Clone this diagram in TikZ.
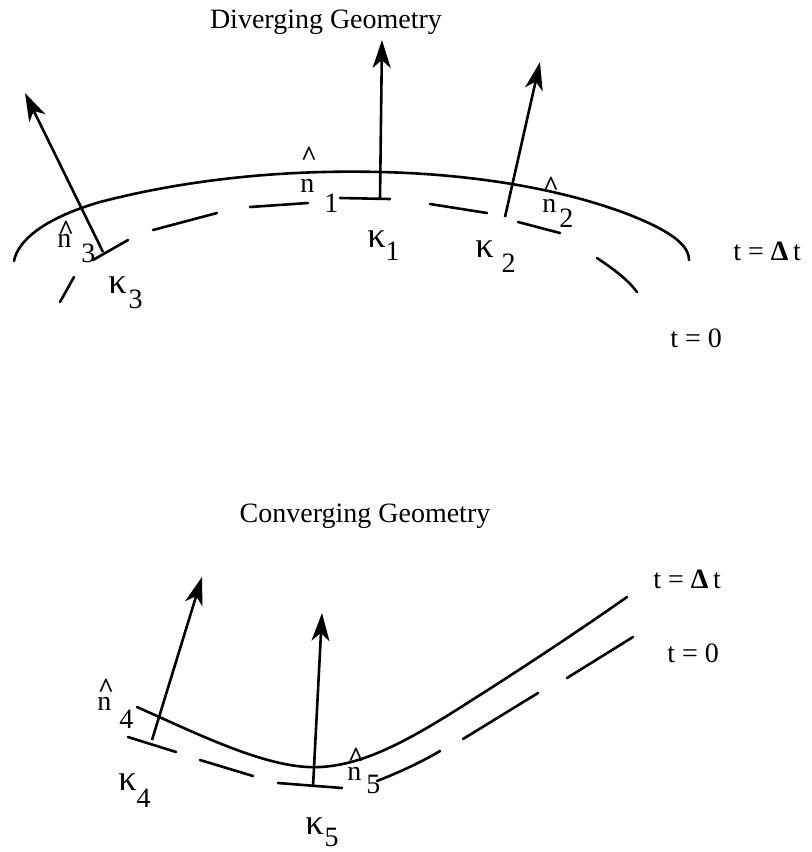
\documentclass[tikz,border=0pt]{standalone}
\usepackage{fontspec}
\usepackage{graphicx}
\setmainfont{Liberation Serif}
\usetikzlibrary{arrows.meta}
\tikzset{
  front solid/.style={line width=1.3pt, line cap=round},
  front dash/.style={line width=1.3pt, line cap=round},
  normal arrow/.style={
    -{Stealth[length=14pt,width=9pt,inset=4pt]},
    line width=1.3pt
  },
  front label/.style={
    font=\fontsize{14}{16}\selectfont,
    inner sep=0pt,
    anchor=base west
  },
  geometry title/.style={
    font=\fontsize{14}{16}\selectfont,
    inner sep=0pt,
    anchor=base
  }
}
\newcommand{\nHat}[1][0.3em]{%
  \leavevmode\rlap{\kern0.02em\raisebox{#1}{\textbf{\textasciicircum}}}n%
}
\newcommand{\kappaSym}{\scalebox{1.3}{κ}}
\newcommand{\indexedLabel}[4][7.5pt]{%
  #2\kern#3\raisebox{-#1}{#4}%
}

\begin{document}
\begin{tikzpicture}[x=0.5pt,y=-0.5pt]
  \useasboundingbox (0,0) rectangle (811,852);

  % diverging geometry
  \node[geometry title] (div title) at (326,28) {Diverging Geometry};

  \draw[front solid] (14,261) .. controls (18,240) and (45,218) .. (100,202)
    .. controls (200,176) and (300,170) .. (380,172)
    .. controls (470,174) and (560,188) .. (630,215)
    .. controls (665,229) and (689,243) .. (689,260);

  \draw[front dash] (60,302) -- (74,277);
  \draw[front dash] (93,260) -- (128,240);
  \draw[front dash] (153,230) -- (217,213);
  \draw[front dash] (250,207) -- (308,203);
  \draw[front dash] (340,198) -- (390,199);
  \draw[front dash] (430,204) -- (487,213);
  \draw[front dash] (518,222) -- (560,233);
  \draw[front dash] (597,258) .. controls (615,270) and (628,280) .. (637,292);

  \coordinate (n3 base) at (103,252);
  \coordinate (n3 tip) at (25,93);
  \coordinate (n1 base) at (380,199);
  \coordinate (n1 tip) at (382,40);
  \coordinate (n2 base) at (505,217);
  \coordinate (n2 tip) at (540,62);
  \draw[normal arrow] (n3 base) -- (n3 tip);
  \draw[normal arrow] (n1 base) -- (n1 tip);
  \draw[normal arrow] (n2 base) -- (n2 tip);

  \node[front label] (n1 label) at (300,192)
    {\indexedLabel[10pt]{\nHat[0.95em]}{5pt}{1}};
  \node[front label] (k1 label) at (367,247) {\indexedLabel[6.5pt]{\kappaSym}{0pt}{1}};
  \node[front label] (n3 label) at (57,247) {\indexedLabel{\nHat[0.28em]}{5pt}{3}};
  \node[front label] (k3 label) at (108,293) {\indexedLabel{\kappaSym}{1pt}{3}};
  \node[front label] (n2 label) at (542,212) {\indexedLabel{\nHat[0.6em]}{1.5pt}{2}};
  \node[front label] (k2 label) at (475,257) {\indexedLabel{\kappaSym}{4pt}{2}};
  \node[front label] (div new) at (733,260) {t = \textbf{Δ}\,t};
  \node[front label] (div old) at (670,347) {t = 0};

  % converging geometry
  \node[geometry title] (conv title) at (365,522) {Converging Geometry};

  \draw[front solid] (137,707) .. controls (200,735) and (270,770) .. (320,767)
    .. controls (360,765) and (400,745) .. (450,714)
    .. controls (520,670) and (580,630) .. (627,597);

  \draw[front dash] (128,737) -- (176,752);
  \draw[front dash] (200,760) -- (253,776);
  \draw[front dash] (278,783) -- (342,788);
  \draw[front dash] (377,781) .. controls (395,774) and (420,763) .. (440,751);
  \draw[front dash] (463,739) -- (538,693);
  \draw[front dash] (567,678) -- (633,637);

  \coordinate (n4 base) at (152,740);
  \coordinate (n4 tip) at (202,577);
  \coordinate (n5 base) at (313,787);
  \coordinate (n5 tip) at (322,613);
  \draw[normal arrow] (n4 base) -- (n4 tip);
  \draw[normal arrow] (n5 base) -- (n5 tip);

  \node[front label] (n4 label) at (97,710) {\indexedLabel[9pt]{\nHat[0.45em]}{4pt}{4}};
  \node[front label] (k4 label) at (118,790) {\indexedLabel[8.5pt]{\kappaSym}{0pt}{4}};
  \node[front label] (n5 label) at (347,780) {\indexedLabel[6.5pt]{\nHat[0.5em]}{2.5pt}{5}};
  \node[front label] (k5 label) at (305,834) {\indexedLabel[6pt]{\kappaSym}{0.5pt}{5}};
  \node[front label] (conv new) at (653,588) {t = \textbf{Δ}\,t};
  \node[front label] (conv old) at (667,662) {t = 0};
\end{tikzpicture}
\end{document}
